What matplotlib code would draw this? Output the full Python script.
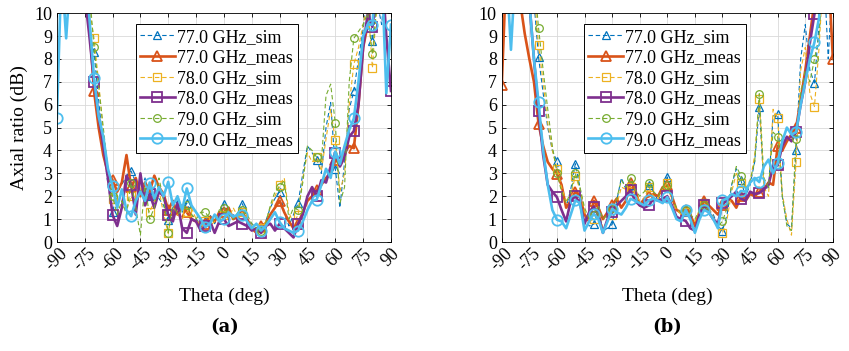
"""
    axial ratio vs theta, 77-79 GHz, sim and meas
"""

import numpy
from matplotlib import pyplot as plt

theta = numpy.arange(-90.0, 90.1, 2.5)    # 73 points, markers every 10 deg

# ---- panel (a) ----
a77sim = [12,12,12,12,12,12,10.5,9.2,
          8.3,6.2,4.2,2.5,1.3,2.2,2.5,2.9,
          3.1,2.6,2.2,2.8,2.0,2.4,1.9,1.6,
          0.95,1.5,1.8,1.3,1.7,1.2,1.0,0.8,
          0.9,1.2,0.8,1.2,1.67,1.1,1.2,1.0,
          1.67,1.0,0.8,0.6,0.6,0.9,1.5,1.9,
          2.2,1.3,0.7,1.2,1.7,3.0,4.2,3.9,
          3.6,3.0,5.0,6.1,3.2,1.5,3.5,5.8,
          6.6,8.0,9.3,11,8.8,10.5,9.5,12,
          12]
a77meas = [12,12,12,12,12,12,12,9.5,
           6.6,5.0,3.8,3.0,2.7,2.2,2.6,3.8,
           2.4,2.8,2.0,2.6,2.2,2.9,2.4,2.1,
           1.4,1.8,1.2,1.6,1.3,1.0,0.9,0.7,
           0.8,1.1,0.9,1.3,1.3,1.5,1.0,1.1,
           1.2,1.0,0.6,0.4,0.7,0.8,1.2,1.5,
           1.8,1.3,0.9,0.6,0.8,1.3,1.8,2.0,
           2.27,2.5,2.8,3.0,3.6,3.4,3.9,4.2,
           4.1,6.0,8.5,9.5,11,12,12,12,
           12]
a78sim = [12,12,12,12,12,12,12,10.2,
          8.9,7.0,4.8,2.8,1.9,1.5,1.6,1.4,
          2.0,1.6,2.4,1.7,1.3,1.8,2.3,1.2,
          0.38,1.5,1.2,1.0,1.3,1.5,1.0,0.7,
          0.9,0.7,0.9,1.2,1.2,1.0,1.5,1.1,
          1.3,0.9,0.7,0.5,0.6,0.9,1.5,2.0,
          2.5,2.8,1.3,0.8,1.2,2.8,3.9,3.5,
          3.7,3.1,4.5,5.8,4.45,2.2,3.0,6.0,
          7.76,8.5,9.5,10.5,7.6,10.5,11,12,
          12]
a78meas = [12,12,12,12,12,12,10.8,9.0,
           7.0,5.5,4.2,2.8,1.18,0.7,1.5,2.9,
           2.5,1.2,3.0,1.6,2.1,1.5,2.2,2.0,
           1.2,0.9,1.7,0.6,0.4,1.0,0.9,0.5,
           0.7,0.9,0.4,0.9,1.0,0.7,0.8,0.9,
           0.8,0.7,0.5,0.6,0.4,0.7,0.8,0.5,
           0.8,0.6,0.4,0.2,0.8,1.2,2.0,2.4,
           2.0,2.7,2.6,3.3,3.9,3.3,3.7,4.6,
           4.85,6.0,8.5,10,9.4,11,12,9.0,
           6.6]
a79sim = [12,12,12,12,12,10,12,11,
          8.5,6.8,5.0,3.2,2.0,1.2,1.8,1.2,
          2.6,1.5,0.3,2.6,1.0,1.5,2.8,1.8,
          0.4,1.7,1.2,1.4,1.6,1.2,1.0,1.3,
          1.3,1.0,0.9,1.4,1.5,1.2,1.0,1.3,
          1.4,1.2,0.8,0.6,0.5,0.8,1.6,2.2,
          2.4,2.7,1.0,1.5,1.4,2.6,4.2,4.0,
          3.7,3.5,6.4,6.9,5.2,1.7,2.4,7.0,
          8.9,9.2,9.5,10,8.2,10.5,12,12,
          12]
a79meas = [5.4,12,8.9,12,12,12,12,9.8,
           7.17,5.5,4.6,3.2,2.45,1.5,2.3,1.4,
           1.13,1.8,2.2,1.8,2.6,1.9,2.4,2.0,
           2.63,1.6,2.0,1.4,2.34,1.6,1.3,1.0,
           0.65,0.8,1.2,0.9,1.0,1.3,1.1,1.2,
           1.2,0.9,0.6,0.8,0.5,0.7,1.0,1.3,
           0.87,0.6,0.5,0.4,0.5,0.9,1.4,1.8,
           1.85,2.5,3.2,2.8,3.95,3.4,4.2,4.9,
           5.4,7.0,9.0,9.5,9.5,12,12,6.5,
           9.5]

# ---- panel (b) ----
b77sim = [12,12,12,12,12,12,12,10.5,
          8.08,6.5,5.0,4.0,3.52,2.5,1.5,2.3,
          3.42,2.4,1.2,0.7,0.77,1.5,0.5,0.6,
          0.77,1.8,2.8,2.3,2.5,2.0,1.7,1.8,
          2.5,2.2,1.8,2.3,2.84,1.9,1.4,1.2,
          1.41,1.0,0.8,1.3,1.8,1.4,1.2,0.7,
          0.5,1.2,2.5,3.2,2.7,2.0,2.5,3.5,
          5.92,2.5,2.3,5.5,5.6,2.0,0.8,0.6,
          4.0,8.0,9.5,7.5,6.95,9.5,12,8.0,
          12]
b77meas = [6.84,12,12,12,10.5,9.1,8.0,7.0,
           5.17,4.2,3.5,3.2,2.98,2.5,1.5,1.8,
           2.2,2.0,1.2,0.9,1.8,1.5,1.0,1.3,
           1.6,1.9,1.5,1.8,2.6,2.3,1.6,1.9,
           2.0,2.1,2.0,2.4,2.47,2.0,1.4,1.3,
           1.41,1.2,0.7,1.3,1.8,1.6,1.4,1.2,
           1.6,1.9,1.8,1.5,2.0,1.8,2.1,2.0,
           2.2,2.3,2.6,2.5,4.2,4.0,4.4,4.7,
           5.0,6.2,7.5,9.0,10.5,12,12,12,
           8.0]
b78sim = [12,12,12,12,12,12,12,11,
          8.6,7.0,5.2,4.0,3.2,2.4,1.8,2.0,
          2.9,2.3,1.3,0.9,1.0,1.4,0.6,0.9,
          1.2,1.6,2.4,2.3,2.4,2.1,1.8,1.9,
          2.4,2.0,1.9,2.3,2.6,1.8,1.4,1.2,
          1.3,1.1,0.9,1.4,1.7,1.5,1.1,0.6,
          0.4,1.0,2.2,3.0,2.6,2.1,2.6,3.8,
          6.23,2.4,2.0,5.8,5.4,2.1,1.0,0.3,
          3.5,7.5,8.5,6.5,5.92,8.5,12,12,
          12]
b78meas = [12,12,12,12,12,12,10.5,8.0,
           5.72,3.8,2.5,2.2,1.96,1.4,0.9,1.8,
           2.0,1.7,0.8,1.3,1.55,1.2,0.4,1.0,
           1.3,1.6,1.8,2.0,2.26,1.8,1.6,1.5,
           1.6,1.9,1.8,1.9,2.0,1.6,1.1,1.0,
           0.92,0.6,0.5,1.2,1.6,1.3,1.0,0.8,
           1.7,1.8,2.0,2.2,1.9,1.8,2.2,2.1,
           2.14,2.3,2.5,3.3,3.35,4.2,4.6,4.4,
           4.8,6.0,7.0,8.7,9.97,12,12,12,
           12]
b79sim = [12,12,12,12,12,12,12,11.5,
          9.36,7.5,5.8,4.2,3.0,2.2,1.7,2.2,
          3.0,2.4,1.5,1.0,1.2,1.6,1.0,1.2,
          1.5,1.9,2.7,2.4,2.8,2.3,2.0,2.2,
          2.6,2.2,2.0,2.4,2.5,1.9,1.5,1.3,
          1.4,1.2,1.0,1.4,1.6,1.4,1.0,0.7,
          0.9,1.5,2.5,3.3,2.9,2.3,2.7,3.5,
          6.48,2.8,2.4,4.8,4.6,2.0,0.7,0.5,
          4.5,6.5,7.5,7.0,8.0,9.0,12,12,
          12]
b79meas = [12,12,8.4,12,12,12,10.5,8.0,
           6.1,4.0,2.5,1.4,0.97,0.9,0.6,1.2,
           1.82,1.7,0.5,0.9,1.24,1.0,0.4,0.9,
           1.45,1.3,1.2,1.5,1.89,1.8,1.7,1.6,
           1.82,1.9,1.8,1.7,1.96,1.5,1.0,0.9,
           1.41,1.0,0.4,1.0,1.4,1.3,1.0,0.6,
           1.82,1.9,2.1,2.0,2.23,2.2,2.6,2.8,
           2.62,3.3,3.6,3.0,3.45,4.4,5.0,4.7,
           4.8,6.0,7.0,8.0,8.73,9.8,12,12,
           12]

labels = ["77.0 GHz_sim", "77.0 GHz_meas", "78.0 GHz_sim",
          "78.0 GHz_meas", "79.0 GHz_sim", "79.0 GHz_meas"]
colors = ["#0072BD", "#D95319", "#EDB120", "#7E2F8E", "#77AC30", "#4DBEEE"]
marks  = ["^", "^", "s", "s", "o", "o"]

plt.rcParams['font.family'] = ['Liberation Serif', 'DejaVu Serif']
plt.rcParams['font.size'] = 13
plt.rcParams['axes.unicode_minus'] = False


def panel(ax, series, legx) :
    for ii, yy in enumerate(series) :
        sim = (ii % 2 == 0)
        ax.plot(theta, yy, color=colors[ii], marker=marks[ii], markevery=4,
                linestyle=(0, (4, 2.5)) if sim else "-",
                linewidth=0.8 if sim else 1.9,
                markersize=5.5 if sim else 7.5,
                markerfacecolor="none", markeredgewidth=0.9 if sim else 1.3,
                label=labels[ii])
    ax.set_xlim(-90, 90)
    ax.set_ylim(0, 10)
    ax.set_xticks(numpy.arange(-90, 91, 15))
    ax.set_yticks(numpy.arange(0, 11, 1))
    ax.tick_params(axis="x", labelrotation=45, pad=2)
    ax.tick_params(direction="in", top=True, right=True, length=3, width=0.6, labelsize=13)
    for lab in ax.get_xticklabels() :
        lab.set_horizontalalignment("center")
    ax.grid(True, color="#d9d9d9", linewidth=0.6)
    ax.set_axisbelow(True)
    for sp in ax.spines.values() :
        sp.set_linewidth(0.6)
    leg = ax.legend(loc="upper left", bbox_to_anchor=(legx, 0.952), fontsize=13,
                    handlelength=1.9, handletextpad=0.15, labelspacing=0.2,
                    borderpad=0.25, borderaxespad=0.0, fancybox=False,
                    framealpha=1.0, edgecolor="black")
    leg.get_frame().set_linewidth(0.7)


fig = plt.figure(figsize=(8.49, 3.51), dpi=100)
ax1 = fig.add_axes([0.067, 0.3105, 0.3935, 0.652])
ax2 = fig.add_axes([0.591, 0.3105, 0.390, 0.652])

panel(ax1, [a77sim, a77meas, a78sim, a78meas, a79sim, a79meas], 0.236)
panel(ax2, [b77sim, b77meas, b78sim, b78meas, b79sim, b79meas], 0.248)

ax1.set_ylabel("Axial ratio (dB)", fontsize=14, labelpad=4)

fig.text(0.264, 0.155, "Theta (deg)", ha="center", va="center", fontsize=14)
fig.text(0.786, 0.155, "Theta (deg)", ha="center", va="center", fontsize=14)
fig.text(0.264, 0.068, "(a)", ha="center", va="center", fontsize=13, fontweight="bold",
         family=["DejaVu Serif"])
fig.text(0.786, 0.068, "(b)", ha="center", va="center", fontsize=13, fontweight="bold",
         family=["DejaVu Serif"])

plt.savefig("out.png", dpi=100)
